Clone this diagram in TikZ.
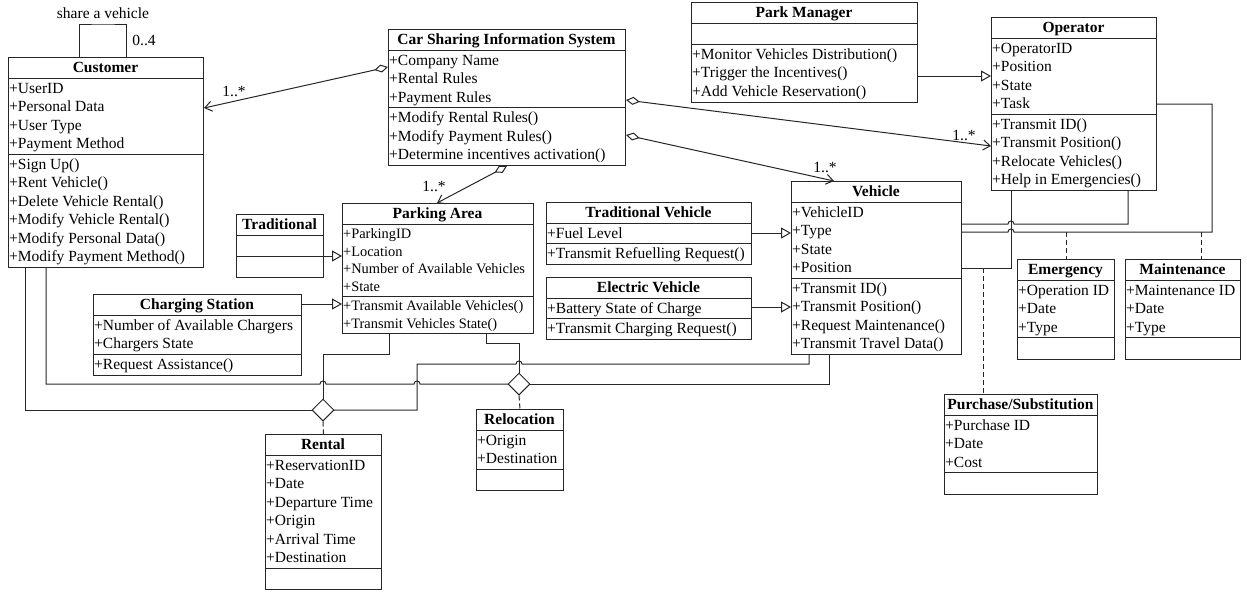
\documentclass[tikz,border=0pt]{standalone}
\usepackage{fontspec}
\setmainfont{Liberation Serif}
\usetikzlibrary{arrows.meta,shapes.geometric}

% ---------- helpers for UML class boxes ----------
\newcount\umlitems
% height of one compartment: empty -> 21, otherwise n rows + padding
\newcommand\umlcompheight[2]{%
  \if\relax\detokenize{#1}\relax
    \gdef\umlh{21}%
  \else
    \global\umlitems=0
    \foreach \x in {#1}{\global\advance\umlitems by 1}%
    \pgfmathsetmacro\umltmp{\the\umlitems*#2+2}%
    \global\let\umlh\umltmp
  \fi}
% list of members: list, left, top, row height, font size
\newcommand\umlitemlist[5]{%
  \if\relax\detokenize{#1}\relax\else
    \foreach \t [count=\i] in {#1}{%
      \node[umlitem, font=\fontsize{#5}{#5}\selectfont] at ({#2+1},{#3+1+(\i-0.5)*#4+5}) {\t};}%
  \fi}
% [item font size] name, left, top, width, row height, title, attributes, operations
\newcommand\umlclass[9][15.5]{%
  \umlcompheight{#8}{#6}\let\umlA\umlh
  \umlcompheight{#9}{#6}\let\umlO\umlh
  \pgfmathsetmacro\umlH{21+\umlA+\umlO}%
  \node[umlframe, minimum width=#5pt, minimum height=\umlH pt, anchor=north west] (#2) at (#3,#4) {};
  \node[umltitle] at ({#3+#5/2},{#4+15.5}) {#7};
  \draw[umlrule] (#3,{#4+21}) -- ++(#5,0);
  \draw[umlrule] (#3,{#4+21+\umlA}) -- ++(#5,0);
  \umlitemlist{#8}{#3}{#4+21}{#6}{#1}%
  \umlitemlist{#9}{#3}{#4+21+\umlA}{#6}{#1}%
}

\begin{document}
\begin{tikzpicture}[x=1pt,y=-1pt,
  umlframe/.style={draw=black!85, line width=1pt, rectangle, inner sep=0pt},
  umlrule/.style={draw=black!85, line width=1pt},
  umltitle/.style={anchor=base, inner sep=0pt, font=\bfseries\fontsize{15.5}{15.5}\selectfont},
  umlitem/.style={anchor=base west, inner sep=0pt},
  lbl/.style={inner sep=0pt, font=\fontsize{15.5}{15.5}\selectfont},
  assoc/.style={draw=black!85, line width=1pt},
  assocdash/.style={draw=black!85, line width=1pt, dash pattern=on 5pt off 3pt},
  aggr/.style={assoc, {Diamond[open,length=14pt,width=8pt]}-{Straight Barb[length=7pt,width=10pt]}},
  gen/.style={assoc, -{Triangle[open,length=10pt,width=11pt]}},
  assocdia/.style={diamond, draw=black!85, line width=1pt, fill=white, aspect=1,
    minimum width=22pt, minimum height=22pt, inner sep=0pt}
]
\useasboundingbox (0,0) rectangle (1247,595);

% ---------- classes ----------
\umlclass{customer}{8}{57}{195}{18.5}{Customer}
  {+UserID,+Personal Data,+User Type,+Payment Method}
  {+Sign Up(),+Rent Vehicle(),+Delete Vehicle Rental(),+Modify Vehicle Rental(),+Modify Personal Data(),+Modify Payment Method()}
\umlclass{csis}{388}{29}{237}{18.5}{Car Sharing Information System}
  {+Company Name,+Rental Rules,+Payment Rules}
  {+Modify Rental Rules(),+Modify Payment Rules(),+Determine incentives activation()}
\umlclass{parkmanager}{691}{2}{226}{18.5}{Park Manager}
  {}
  {+Monitor Vehicles Distribution(),+Trigger the Incentives(),+Add Vehicle Reservation()}
\umlclass{operator}{991}{17}{165}{18.5}{Operator}
  {+OperatorID,+Position,+State,+Task}
  {+Transmit ID(),+Transmit Position(),+Relocate Vehicles(),+Help in Emergencies()}
\umlclass{traditional}{236}{214}{87}{18.5}{Traditional}{}{}
\umlclass[14.4]{parking}{342}{203}{191}{17.5}{Parking Area}
  {+ParkingID,+Location,+Number of Available Vehicles,+State}
  {+Transmit Available Vehicles(),+Transmit Vehicles State()}
\umlclass{tradvehicle}{546}{202}{205}{18.5}{Traditional Vehicle}
  {+Fuel Level}{+Transmit Refuelling Request()}
\umlclass{elecvehicle}{546}{277}{205}{18.5}{Electric Vehicle}
  {+Battery State of Charge}{+Transmit Charging Request()}
\umlclass{vehicle}{791}{181}{170}{18.5}{Vehicle}
  {+VehicleID,+Type,+State,+Position}
  {+Transmit ID(),+Transmit Position(),+Request Maintenance(),+Transmit Travel Data()}
\umlclass{charging}{93}{294}{208}{18.5}{Charging Station}
  {+Number of Available Chargers,+Chargers State}{+Request Assistance()}
\umlclass{emergency}{1017}{259}{97}{18.5}{Emergency}{+Operation ID,+Date,+Type}{}
\umlclass{maintenance}{1125}{259}{115}{18.5}{Maintenance}{+Maintenance ID,+Date,+Type}{}
\umlclass{purchase}{944}{394}{153}{18.5}{Purchase/Substitution}{+Purchase ID,+Date,+Cost}{}
\umlclass{rental}{265}{434}{116}{18.5}{Rental}
  {+ReservationID,+Date,+Departure Time,+Origin,+Arrival Time,+Destination}{}
\umlclass{relocation}{476}{409}{87}{18.5}{Relocation}{+Origin,+Destination}{}

% ---------- self association of Customer ----------
\coordinate (loopTop) at (103,24);
\draw[assoc] (customer.north -| 79,0) |- (loopTop) -| (customer.north -| 126,0);
\node[lbl] (loopLbl) at (103,13) {share a vehicle};
\node[lbl] (loopMult) at (144,40) {0..4};

% ---------- aggregations of the information system ----------
\draw[aggr] (csis.west |- 0,67) -- (customer.east |- 0,108);
\draw[aggr] (csis.south -| 507,0) -- (parking.north -| 437,0);
\draw[aggr] (csis.east |- 0,100) -- (operator.west |- 0,146);
\draw[aggr] (csis.east |- 0,135) -- (vehicle.north -| 834,0);
\node[lbl] (mCust) at (234,91) {1..*};
\node[lbl] (mPark) at (434,186) {1..*};
\node[lbl] (mOper) at (964,135) {1..*};
\node[lbl] (mVeh) at (825,167) {1..*};

% ---------- generalizations ----------
\draw[gen] (parkmanager.east |- 0,76) -- (operator.west |- 0,76);
\draw[gen] (traditional.east |- 0,256) -- (parking.west |- 0,256);
\draw[gen] (charging.east |- 0,304) -- (parking.west |- 0,304);
\draw[gen] (tradvehicle.east |- 0,233) -- (vehicle.west |- 0,233);
\draw[gen] (elecvehicle.east |- 0,307) -- (vehicle.west |- 0,307);

% ---------- operator / vehicle associations ----------
\draw[assoc] (operator.south -| 1011,0) -- (1011,268) -- (vehicle.east |- 0,268);
\draw[assoc] (operator.south -| 1128,0) -- (1128,224) -- (1014,224)
  .. controls (1014,220) and (1008,220) .. (1008,224) -- (vehicle.east |- 0,224);
\draw[assoc] (operator.east |- 0,104) -| (1212,232) -- (1014,232)
  .. controls (1014,228) and (1008,228) .. (1008,232) -- (vehicle.east |- 0,232);
\coordinate (emgLink) at (1066,232);
\coordinate (mntLink) at (1201,232);
\coordinate (purLink) at (983,268);
\draw[assocdash] (emgLink) -- (emergency.north -| 1066,0);
\draw[assocdash] (mntLink) -- (maintenance.north -| 1201,0);
\draw[assocdash] (purLink) -- (purchase.north -| 983,0);

% ---------- n-ary associations: rental and relocation ----------
\draw[assoc] (customer.south -| 25,0) |- (323,410) coordinate (rentIn);
\draw[assoc] (customer.south -| 46,0) -- (46,384) -- (320,384)
  .. controls (320,380) and (326,380) .. (326,384) -- (414,384)
  .. controls (414,380) and (420,380) .. (420,384) -- (519,384) coordinate (relocIn);
\draw[assoc] (parking.south -| 389,0) |- (323,354) -- (rentIn);
\draw[assoc] (rentIn) -| (417,364) -- (516,364)
  .. controls (516,360) and (522,360) .. (522,364) -- (809,364) -- (vehicle.south -| 809,0);
\draw[assoc] (parking.south -| 486,0) |- (519,343) -- (relocIn);
\draw[assoc] (relocIn) -| (vehicle.south -| 829,0);
\node[assocdia] (rentDia) at (rentIn) {};
\node[assocdia] (relocDia) at (relocIn) {};
\draw[assocdash] (rentDia.south) -- (rental.north);
\draw[assocdash] (relocDia.south) -- (relocation.north);
\end{tikzpicture}
\end{document}
